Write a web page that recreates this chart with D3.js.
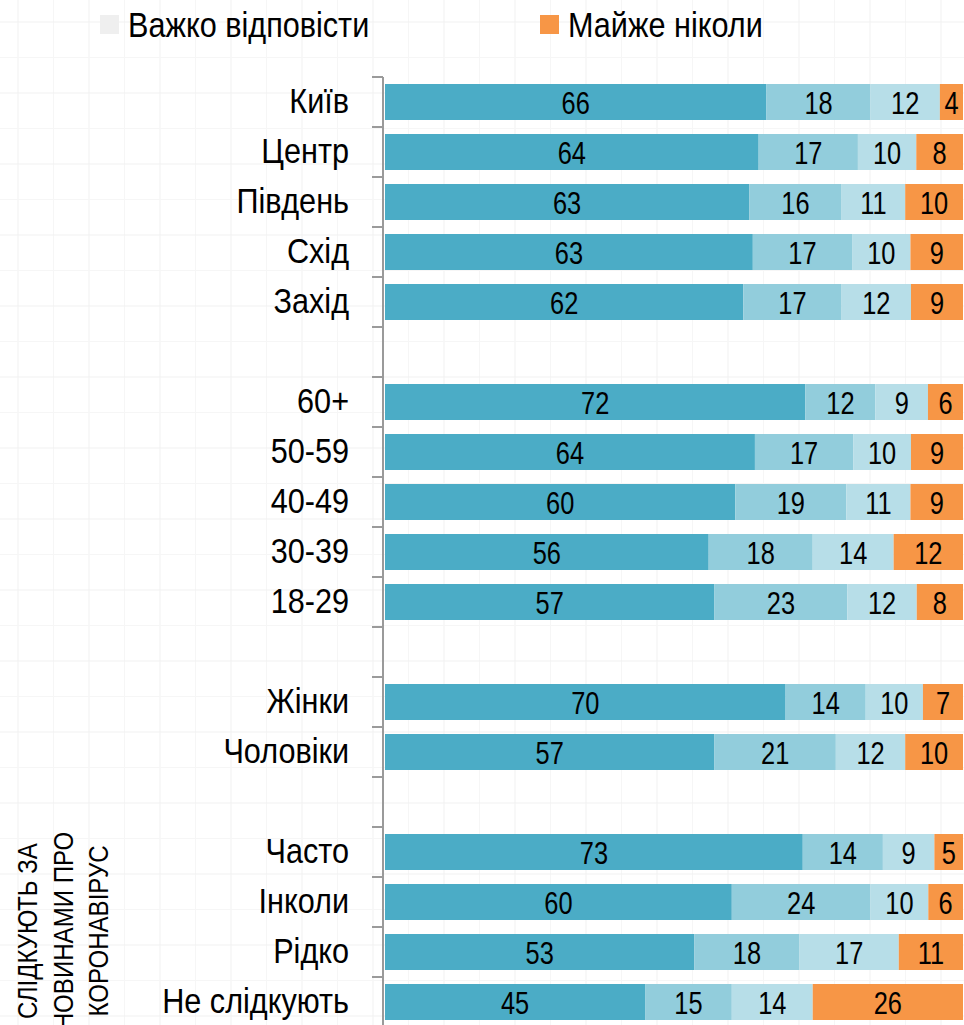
<!DOCTYPE html>
<html>
<head>
<meta charset="utf-8">
<script src="https://cdn.jsdelivr.net/npm/d3@7"></script>
<style>
  html, body { margin: 0; padding: 0; background: #fff; overflow: hidden; }
  svg { display: block; }
  text { font-family: "Liberation Sans", Arial, sans-serif; fill: #000; }
</style>
</head>
<body>
<svg id="chart" width="964" height="1025"></svg>
<script>
// ---- data ----
const categories = ["Київ", "Центр", "Південь", "Схід", "Захід", "", "60+", "50-59", "40-49", "30-39", "18-29", "", "Жінки", "Чоловіки", "", "Часто", "Інколи", "Рідко", "Не слідкують"];
const series1 = [66, 64, 63, 63, 62, null, 72, 64, 60, 56, 57, null, 70, 57, null, 73, 60, 53, 45];
const series2 = [18, 17, 16, 17, 17, null, 12, 17, 19, 18, 23, null, 14, 21, null, 14, 24, 18, 15];
const series3 = [12, 10, 11, 10, 12, null, 9, 10, 11, 14, 12, null, 10, 12, null, 9, 10, 17, 14];
const series4 = [4, 8, 10, 9, 9, null, 6, 9, 9, 12, 8, null, 7, 10, null, 5, 6, 11, 26];
const seriesKeys = ["s1", "s2", "s3", "s4"];
const seriesColors = ["#4BACC6", "#92CDDC", "#B7DEE8", "#F79646"];
const legendLabels = ["Важко відповісти", "Майже ніколи"];
const legendColors = ["#EFEFEF", "#F79646"];
const groupTitleLines = ["СЛІДКУЮТЬ ЗА", "НОВИНАМИ ПРО", "КОРОНАВІРУС"];

// horizontal compression to imitate a narrow face
const NARROW_BIG = 0.875, NARROW_VAL = 0.82, NARROW_ROT = 0.86;

// ---- build rows ----
const rows = categories.map((c, i) => ({
  key: "k" + i, label: c,
  s1: series1[i] || 0, s2: series2[i] || 0, s3: series3[i] || 0, s4: series4[i] || 0,
  empty: series1[i] == null
}));

const svg = d3.select("#chart");
const W = 964, H = 1025;

// faint graph-paper background
const bg = svg.append("g");
const gx = d3.range(18, W, 35.5), gy = d3.range(22, H, 35.5);
bg.selectAll("line.v").data(gx).join("line")
  .attr("x1", d => d).attr("x2", d => d).attr("y1", 0).attr("y2", H)
  .attr("stroke", (d, i) => i % 2 ? "#f6f6f6" : "#f1f1f1").attr("stroke-width", 1);
bg.selectAll("line.h").data(gy).join("line")
  .attr("y1", d => d).attr("y2", d => d).attr("x1", 0).attr("x2", W)
  .attr("stroke", (d, i) => i % 2 ? "#f6f6f6" : "#f1f1f1").attr("stroke-width", 1);

// scales
const x = d3.scaleLinear().domain([0, 1]).range([385, 963]);
const y = d3.scaleBand().domain(rows.map(r => r.key)).range([77, 1027])
  .paddingInner(0.28).paddingOuter(0.14);

const stack = d3.stack().keys(seriesKeys).offset(d3.stackOffsetExpand);
const stacked = stack(rows.filter(r => !r.empty));

const gBars = svg.append("g");
stacked.forEach((layer, si) => {
  const g = gBars.append("g");
  g.selectAll("rect").data(layer).join("rect")
    .attr("x", d => x(d[0]))
    .attr("y", d => y(d.data.key))
    .attr("width", d => x(d[1]) - x(d[0]))
    .attr("height", y.bandwidth())
    .attr("fill", seriesColors[si]);
  g.selectAll("text").data(layer).join("text")
    .attr("transform", d => `translate(${(x(d[0]) + x(d[1])) / 2},${y(d.data.key) + y.bandwidth() / 2}) scale(${NARROW_VAL},1)`)
    .attr("dy", "0.4em")
    .attr("text-anchor", "middle")
    .style("font-size", "31px")
    .text(d => d.data[layer.key]);
});

// category axis labels
const axis = d3.axisLeft(y).tickSize(0).tickPadding(34)
  .tickFormat(k => rows.find(r => r.key === k).label);
const gAxis = svg.append("g").attr("transform", "translate(383,0)").call(axis);
gAxis.select(".domain").remove();
gAxis.selectAll("text")
  .style("font-size", "35px")
  .style("font-family", "'Liberation Sans', Arial, sans-serif")
  .attr("fill", "#000")
  .attr("x", -34 / NARROW_BIG)
  .attr("transform", `scale(${NARROW_BIG},1)`);

// axis line and boundary ticks
const half = (y.step() - y.bandwidth()) / 2;
const bounds = rows.map(r => y(r.key) - half);
svg.append("line").attr("x1", 383).attr("x2", 383)
  .attr("y1", bounds[0]).attr("y2", H + 5)
  .attr("stroke", "#9a9a9a").attr("stroke-width", 2);
svg.append("g").selectAll("line").data(bounds).join("line")
  .attr("x1", 372).attr("x2", 383).attr("y1", d => d).attr("y2", d => d)
  .attr("stroke", "#9a9a9a").attr("stroke-width", 2);

// legend
const legX = [100, 540];
const lg = svg.append("g");
legendLabels.forEach((l, i) => {
  lg.append("rect").attr("x", legX[i]).attr("y", 15).attr("width", 19).attr("height", 19)
    .attr("fill", legendColors[i]);
  lg.append("text")
    .attr("transform", `translate(${legX[i] + 28},37) scale(${NARROW_BIG},1)`)
    .style("font-size", "35px").text(l);
});

// rotated group title
const baseX = [37, 73, 108];
groupTitleLines.forEach((t, i) => {
  svg.append("text")
    .attr("transform", `translate(${baseX[i]},931) rotate(-90) scale(${NARROW_ROT},1)`)
    .attr("text-anchor", "middle")
    .style("font-size", "28px")
    .text(t);
});
</script>
</body>
</html>
